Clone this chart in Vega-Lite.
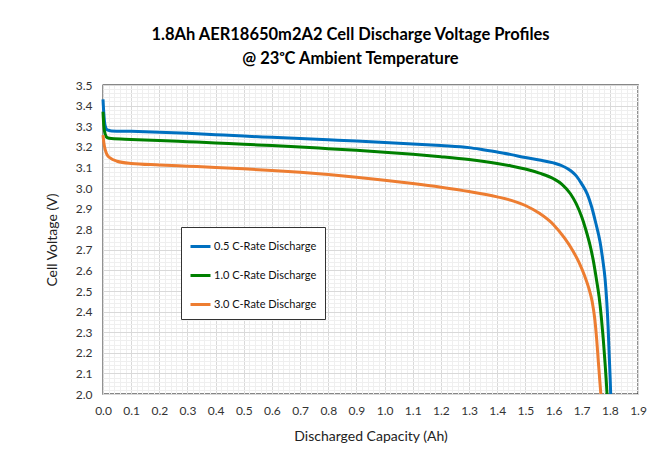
{
  "$schema": "https://vega.github.io/schema/vega-lite/v6.json",
  "width": 535,
  "height": 309,
  "autosize": {"type": "none"},
  "padding": {"left": 103, "top": 85, "right": 32, "bottom": 63},
  "background": "white",
  "title": {
    "text": ["1.8Ah AER18650m2A2 Cell Discharge Voltage Profiles", "@ 23ᵒC Ambient Temperature"],
    "font": "Lato", "fontSize": 16.5, "fontWeight": "bold", "color": "#000",
    "anchor": "middle", "dx": -20, "offset": 12, "lineHeight": 24
  },
  "config": {"view": {"stroke": "#111", "strokeWidth": 1.3}, "font": "Lato"},
  "data": {"values": [
    {"s": "0.5 C-Rate Discharge", "x": 0, "v": 3.43},
    {"s": "0.5 C-Rate Discharge", "x": 0.003, "v": 3.36},
    {"s": "0.5 C-Rate Discharge", "x": 0.008, "v": 3.30},
    {"s": "0.5 C-Rate Discharge", "x": 0.015, "v": 3.282},
    {"s": "0.5 C-Rate Discharge", "x": 0.03, "v": 3.277},
    {"s": "0.5 C-Rate Discharge", "x": 0.1, "v": 3.275},
    {"s": "0.5 C-Rate Discharge", "x": 0.2, "v": 3.271},
    {"s": "0.5 C-Rate Discharge", "x": 0.3, "v": 3.266},
    {"s": "0.5 C-Rate Discharge", "x": 0.4, "v": 3.259},
    {"s": "0.5 C-Rate Discharge", "x": 0.5, "v": 3.252},
    {"s": "0.5 C-Rate Discharge", "x": 0.6, "v": 3.246},
    {"s": "0.5 C-Rate Discharge", "x": 0.7, "v": 3.240},
    {"s": "0.5 C-Rate Discharge", "x": 0.8, "v": 3.234},
    {"s": "0.5 C-Rate Discharge", "x": 0.9, "v": 3.228},
    {"s": "0.5 C-Rate Discharge", "x": 1.0, "v": 3.221},
    {"s": "0.5 C-Rate Discharge", "x": 1.1, "v": 3.214},
    {"s": "0.5 C-Rate Discharge", "x": 1.2, "v": 3.206},
    {"s": "0.5 C-Rate Discharge", "x": 1.3, "v": 3.196},
    {"s": "0.5 C-Rate Discharge", "x": 1.35, "v": 3.186},
    {"s": "0.5 C-Rate Discharge", "x": 1.4, "v": 3.175},
    {"s": "0.5 C-Rate Discharge", "x": 1.45, "v": 3.162},
    {"s": "0.5 C-Rate Discharge", "x": 1.5, "v": 3.148},
    {"s": "0.5 C-Rate Discharge", "x": 1.55, "v": 3.136},
    {"s": "0.5 C-Rate Discharge", "x": 1.6, "v": 3.122},
    {"s": "0.5 C-Rate Discharge", "x": 1.63, "v": 3.108},
    {"s": "0.5 C-Rate Discharge", "x": 1.66, "v": 3.085},
    {"s": "0.5 C-Rate Discharge", "x": 1.68, "v": 3.06},
    {"s": "0.5 C-Rate Discharge", "x": 1.70, "v": 3.02},
    {"s": "0.5 C-Rate Discharge", "x": 1.72, "v": 2.97},
    {"s": "0.5 C-Rate Discharge", "x": 1.735, "v": 2.91},
    {"s": "0.5 C-Rate Discharge", "x": 1.75, "v": 2.83},
    {"s": "0.5 C-Rate Discharge", "x": 1.765, "v": 2.74},
    {"s": "0.5 C-Rate Discharge", "x": 1.775, "v": 2.65},
    {"s": "0.5 C-Rate Discharge", "x": 1.783, "v": 2.56},
    {"s": "0.5 C-Rate Discharge", "x": 1.789, "v": 2.45},
    {"s": "0.5 C-Rate Discharge", "x": 1.794, "v": 2.32},
    {"s": "0.5 C-Rate Discharge", "x": 1.798, "v": 2.18},
    {"s": "0.5 C-Rate Discharge", "x": 1.801, "v": 2.08},
    {"s": "0.5 C-Rate Discharge", "x": 1.803, "v": 2.0},
    {"s": "1.0 C-Rate Discharge", "x": 0, "v": 3.37},
    {"s": "1.0 C-Rate Discharge", "x": 0.003, "v": 3.30},
    {"s": "1.0 C-Rate Discharge", "x": 0.008, "v": 3.26},
    {"s": "1.0 C-Rate Discharge", "x": 0.015, "v": 3.245},
    {"s": "1.0 C-Rate Discharge", "x": 0.03, "v": 3.240},
    {"s": "1.0 C-Rate Discharge", "x": 0.1, "v": 3.236},
    {"s": "1.0 C-Rate Discharge", "x": 0.2, "v": 3.231},
    {"s": "1.0 C-Rate Discharge", "x": 0.3, "v": 3.225},
    {"s": "1.0 C-Rate Discharge", "x": 0.4, "v": 3.219},
    {"s": "1.0 C-Rate Discharge", "x": 0.5, "v": 3.212},
    {"s": "1.0 C-Rate Discharge", "x": 0.6, "v": 3.206},
    {"s": "1.0 C-Rate Discharge", "x": 0.7, "v": 3.199},
    {"s": "1.0 C-Rate Discharge", "x": 0.8, "v": 3.191},
    {"s": "1.0 C-Rate Discharge", "x": 0.9, "v": 3.183},
    {"s": "1.0 C-Rate Discharge", "x": 1.0, "v": 3.174},
    {"s": "1.0 C-Rate Discharge", "x": 1.1, "v": 3.164},
    {"s": "1.0 C-Rate Discharge", "x": 1.2, "v": 3.152},
    {"s": "1.0 C-Rate Discharge", "x": 1.3, "v": 3.138},
    {"s": "1.0 C-Rate Discharge", "x": 1.4, "v": 3.119},
    {"s": "1.0 C-Rate Discharge", "x": 1.45, "v": 3.107},
    {"s": "1.0 C-Rate Discharge", "x": 1.5, "v": 3.092},
    {"s": "1.0 C-Rate Discharge", "x": 1.55, "v": 3.072},
    {"s": "1.0 C-Rate Discharge", "x": 1.6, "v": 3.045},
    {"s": "1.0 C-Rate Discharge", "x": 1.63, "v": 3.018},
    {"s": "1.0 C-Rate Discharge", "x": 1.66, "v": 2.972},
    {"s": "1.0 C-Rate Discharge", "x": 1.68, "v": 2.925},
    {"s": "1.0 C-Rate Discharge", "x": 1.70, "v": 2.86},
    {"s": "1.0 C-Rate Discharge", "x": 1.715, "v": 2.796},
    {"s": "1.0 C-Rate Discharge", "x": 1.73, "v": 2.72},
    {"s": "1.0 C-Rate Discharge", "x": 1.741, "v": 2.65},
    {"s": "1.0 C-Rate Discharge", "x": 1.752, "v": 2.56},
    {"s": "1.0 C-Rate Discharge", "x": 1.762, "v": 2.47},
    {"s": "1.0 C-Rate Discharge", "x": 1.77, "v": 2.37},
    {"s": "1.0 C-Rate Discharge", "x": 1.777, "v": 2.26},
    {"s": "1.0 C-Rate Discharge", "x": 1.783, "v": 2.15},
    {"s": "1.0 C-Rate Discharge", "x": 1.787, "v": 2.07},
    {"s": "1.0 C-Rate Discharge", "x": 1.79, "v": 2.0},
    {"s": "3.0 C-Rate Discharge", "x": 0, "v": 3.257},
    {"s": "3.0 C-Rate Discharge", "x": 0.003, "v": 3.22},
    {"s": "3.0 C-Rate Discharge", "x": 0.008, "v": 3.185},
    {"s": "3.0 C-Rate Discharge", "x": 0.015, "v": 3.16},
    {"s": "3.0 C-Rate Discharge", "x": 0.025, "v": 3.146},
    {"s": "3.0 C-Rate Discharge", "x": 0.05, "v": 3.13},
    {"s": "3.0 C-Rate Discharge", "x": 0.1, "v": 3.119},
    {"s": "3.0 C-Rate Discharge", "x": 0.2, "v": 3.112},
    {"s": "3.0 C-Rate Discharge", "x": 0.3, "v": 3.106},
    {"s": "3.0 C-Rate Discharge", "x": 0.4, "v": 3.100},
    {"s": "3.0 C-Rate Discharge", "x": 0.5, "v": 3.093},
    {"s": "3.0 C-Rate Discharge", "x": 0.6, "v": 3.085},
    {"s": "3.0 C-Rate Discharge", "x": 0.7, "v": 3.076},
    {"s": "3.0 C-Rate Discharge", "x": 0.8, "v": 3.065},
    {"s": "3.0 C-Rate Discharge", "x": 0.9, "v": 3.052},
    {"s": "3.0 C-Rate Discharge", "x": 1.0, "v": 3.038},
    {"s": "3.0 C-Rate Discharge", "x": 1.1, "v": 3.022},
    {"s": "3.0 C-Rate Discharge", "x": 1.2, "v": 3.004},
    {"s": "3.0 C-Rate Discharge", "x": 1.3, "v": 2.983},
    {"s": "3.0 C-Rate Discharge", "x": 1.4, "v": 2.957},
    {"s": "3.0 C-Rate Discharge", "x": 1.45, "v": 2.94},
    {"s": "3.0 C-Rate Discharge", "x": 1.5, "v": 2.915},
    {"s": "3.0 C-Rate Discharge", "x": 1.55, "v": 2.877},
    {"s": "3.0 C-Rate Discharge", "x": 1.6, "v": 2.822},
    {"s": "3.0 C-Rate Discharge", "x": 1.64, "v": 2.755},
    {"s": "3.0 C-Rate Discharge", "x": 1.67, "v": 2.692},
    {"s": "3.0 C-Rate Discharge", "x": 1.69, "v": 2.64},
    {"s": "3.0 C-Rate Discharge", "x": 1.71, "v": 2.575},
    {"s": "3.0 C-Rate Discharge", "x": 1.725, "v": 2.515},
    {"s": "3.0 C-Rate Discharge", "x": 1.737, "v": 2.45},
    {"s": "3.0 C-Rate Discharge", "x": 1.746, "v": 2.37},
    {"s": "3.0 C-Rate Discharge", "x": 1.753, "v": 2.27},
    {"s": "3.0 C-Rate Discharge", "x": 1.759, "v": 2.16},
    {"s": "3.0 C-Rate Discharge", "x": 1.764, "v": 2.07},
    {"s": "3.0 C-Rate Discharge", "x": 1.768, "v": 2.0}
  ]},
  "layer": [
    {
      "mark": {"type": "line", "opacity": 0},
      "encoding": {
        "x": {"field": "x", "type": "quantitative",
          "scale": {"domain": [0, 1.9], "nice": false, "zero": false},
          "axis": {"orient": "bottom", "tickCount": 95, "grid": true, "gridColor": "#efefef", "gridWidth": 1,
            "labels": false, "ticks": false, "domain": false, "title": null}},
        "y": {"field": "v", "type": "quantitative",
          "scale": {"domain": [2.0, 3.5], "nice": false, "zero": false},
          "axis": {"orient": "left", "tickCount": 75, "grid": true, "gridColor": "#efefef", "gridWidth": 1,
            "labels": false, "ticks": false, "domain": false, "title": null}},
        "detail": {"field": "s"}
      }
    },
    {
      "mark": {"type": "line", "strokeWidth": 3, "interpolate": "monotone"},
      "encoding": {
        "x": {"field": "x", "type": "quantitative",
          "scale": {"domain": [0, 1.9], "nice": false, "zero": false},
          "axis": {"orient": "bottom", "values": [0, 0.1, 0.2, 0.3, 0.4, 0.5, 0.6, 0.7, 0.8, 0.9, 1.0, 1.1, 1.2, 1.3, 1.4, 1.5, 1.6, 1.7, 1.8, 1.9],
            "format": ".1f", "grid": true, "gridColor": "#d9d9d9", "ticks": false, "domain": false,
            "labelFlush": false, "labelOverlap": false, "labelFontSize": 12, "labelColor": "#333", "labelPadding": 11,
            "title": "Discharged Capacity (Ah)", "titleFontSize": 14, "titleFontWeight": "normal", "titleColor": "#222", "titlePadding": 13}},
        "y": {"field": "v", "type": "quantitative",
          "scale": {"domain": [2.0, 3.5], "nice": false, "zero": false},
          "axis": {"orient": "left", "values": [2.0, 2.1, 2.2, 2.3, 2.4, 2.5, 2.6, 2.7, 2.8, 2.9, 3.0, 3.1, 3.2, 3.3, 3.4, 3.5],
            "format": ".1f", "grid": true, "gridColor": "#d9d9d9", "ticks": false, "domain": false,
            "labelFlush": false, "labelOverlap": false, "labelFontSize": 12, "labelColor": "#333", "labelPadding": 11,
            "title": "Cell Voltage (V)", "titleFontSize": 14, "titleFontWeight": "normal", "titleColor": "#222", "titlePadding": 16}},
        "color": {"field": "s", "type": "nominal",
          "scale": {"domain": ["0.5 C-Rate Discharge", "1.0 C-Rate Discharge", "3.0 C-Rate Discharge"], "range": ["#0070C0", "#008000", "#ED7D31"]},
          "legend": {"orient": "none", "legendX": 78, "legendY": 142, "title": null,
            "symbolType": "stroke", "symbolSize": 400, "symbolStrokeWidth": 3,
            "labelFontSize": 11, "labelColor": "#111", "labelOffset": 2, "rowPadding": 11,
            "padding": 8, "strokeColor": "#333", "fillColor": "white"}}
      }
    }
  ],
  "resolve": {"axis": {"x": "independent", "y": "independent"}}
}
